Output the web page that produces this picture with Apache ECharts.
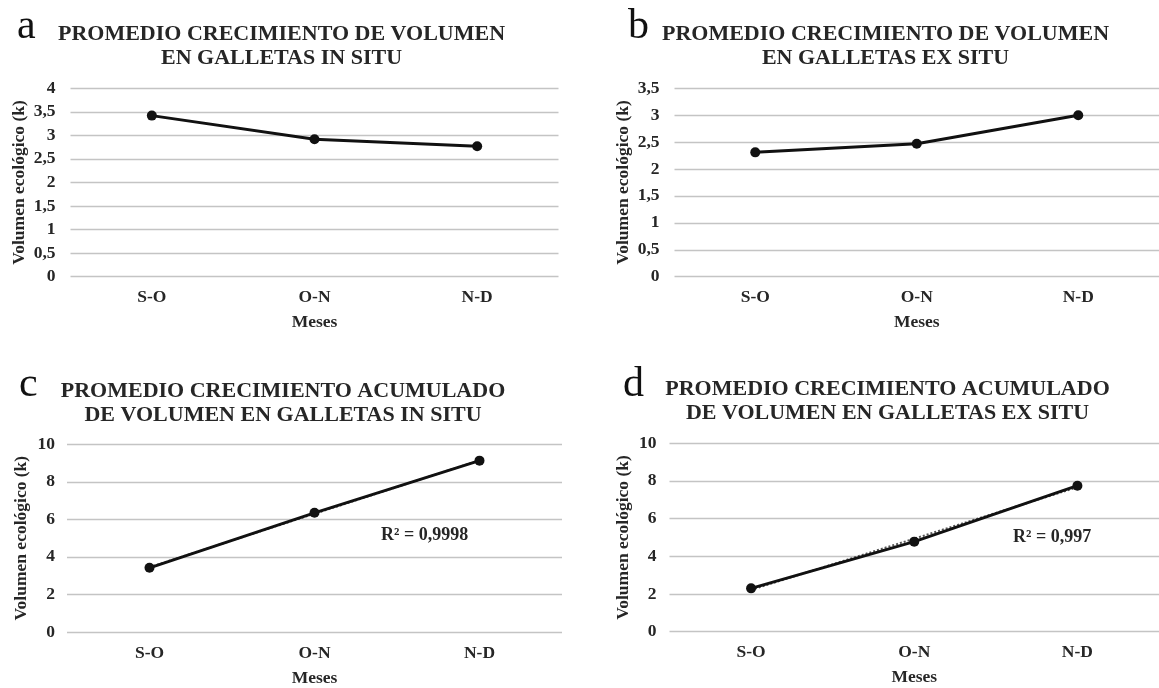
<!DOCTYPE html>
<html>
<head>
<meta charset="utf-8">
<script src="https://cdn.jsdelivr.net/npm/echarts@6/dist/echarts.min.js"></script>
<style>html,body{margin:0;padding:0;background:#fff}#c{width:1159px;height:688px}</style>
</head>
<body>
<div id="c"></div>
<script>
const categories = ['S-O', 'O-N', 'N-D'];
const inSitu = [3.42, 2.92, 2.77];
const exSitu = [2.31, 2.47, 3.00];
const accInSitu = [3.42, 6.35, 9.13];
const accExSitu = [2.30, 4.78, 7.75];
const trendInSitu = [3.45, 6.30, 9.15];
const trendExSitu = [2.22, 4.94, 7.67];
const yMax = [4, 3.5, 10, 10];
const yStep = [0.5, 0.5, 2, 2];
const titles = [
  'PROMEDIO CRECIMIENTO DE VOLUMEN\nEN GALLETAS IN SITU',
  'PROMEDIO CRECIMIENTO DE VOLUMEN\nEN GALLETAS EX SITU',
  'PROMEDIO CRECIMIENTO ACUMULADO\nDE VOLUMEN EN GALLETAS IN SITU',
  'PROMEDIO CRECIMIENTO ACUMULADO\nDE VOLUMEN EN GALLETAS EX SITU'
];
const letters = ['a', 'b', 'c', 'd'];
const r2Labels = ['R² = 0,9998', 'R² = 0,997'];

const SERIF = '"Liberation Serif","DejaVu Serif",serif';
const TXT = '#262626';

const grids = [
  {left: 70.5, top: 88.3, width: 488, height: 188.4},
  {left: 674.5, top: 88.3, width: 488, height: 188.4},
  {left: 67, top: 444.3, width: 495, height: 189},
  {left: 669.5, top: 443.3, width: 495, height: 188.4}
];
const labelMargin = [15, 15, 12, 13];
const yNameGap = [42, 42, 37, 37];
const titlePos = [
  {x: 281.5, y: 22}, {x: 885.5, y: 22}, {x: 283, y: 379}, {x: 887.5, y: 377}
];
const letterPos = [
  {x: 17, y: 6}, {x: 628, y: 6}, {x: 19, y: 364}, {x: 623, y: 364}
];

const chart = echarts.init(document.getElementById('c'));
const title = [];
titles.forEach((t, i) => {
  title.push({
    text: t, left: titlePos[i].x, top: titlePos[i].y, textAlign: 'center', padding: 0,
    textStyle: {fontFamily: SERIF, fontSize: 22, fontWeight: 'bold', lineHeight: 24, color: TXT}
  });
  title.push({
    text: letters[i], left: letterPos[i].x, top: letterPos[i].y, padding: 0,
    textStyle: {fontFamily: SERIF, fontSize: 42, fontWeight: 'normal', lineHeight: 42, color: '#111'}
  });
});

const xAxis = grids.map((g, i) => ({
  type: 'category', gridIndex: i, data: categories, boundaryGap: true,
  axisLine: {show: false}, axisTick: {show: false},
  axisLabel: {fontFamily: SERIF, fontSize: 17.5, fontWeight: 'bold', color: TXT, margin: 12},
  name: 'Meses', nameLocation: 'middle', nameGap: 37,
  nameTextStyle: {fontFamily: SERIF, fontSize: 17.5, fontWeight: 'bold', color: TXT}
}));
const yAxis = grids.map((g, i) => ({
  type: 'value', gridIndex: i, min: 0, max: yMax[i], interval: yStep[i],
  axisLine: {show: false}, axisTick: {show: false},
  splitLine: {lineStyle: {color: '#c4c4c4', width: 1.4}},
  axisLabel: {fontFamily: SERIF, fontSize: 17.5, fontWeight: 'bold', color: TXT, margin: labelMargin[i],
    formatter: v => String(v).replace('.', ',')},
  name: 'Volumen ecológico (k)', nameLocation: 'middle', nameGap: yNameGap[i], nameRotate: 90,
  nameTextStyle: {fontFamily: SERIF, fontSize: 17.5, fontWeight: 'bold', color: TXT}
}));

const mainStyle = (i, data) => ({
  type: 'line', xAxisIndex: i, yAxisIndex: i, data: data,
  symbol: 'circle', symbolSize: 10, z: 3,
  lineStyle: {color: '#111', width: 3},
  itemStyle: {color: '#111'}
});
const trendStyle = (i, data) => ({
  type: 'line', xAxisIndex: i, yAxisIndex: i, data: data,
  symbol: 'none', z: 2, silent: true,
  lineStyle: {color: '#555', width: 2, type: 'dotted'}
});

const series = [
  mainStyle(0, inSitu),
  mainStyle(1, exSitu),
  trendStyle(2, trendInSitu),
  mainStyle(2, accInSitu),
  trendStyle(3, trendExSitu),
  mainStyle(3, accExSitu)
];

const graphic = [
  {type: 'text', left: 381, top: 526, style: {text: r2Labels[0], font: 'bold 18px ' + SERIF, fill: TXT}},
  {type: 'text', left: 1013, top: 528, style: {text: r2Labels[1], font: 'bold 18px ' + SERIF, fill: TXT}}
];

chart.setOption({
  backgroundColor: '#fff',
  animation: false,
  title: title,
  grid: grids,
  xAxis: xAxis,
  yAxis: yAxis,
  series: series,
  graphic: graphic
});
</script>
</body>
</html>
